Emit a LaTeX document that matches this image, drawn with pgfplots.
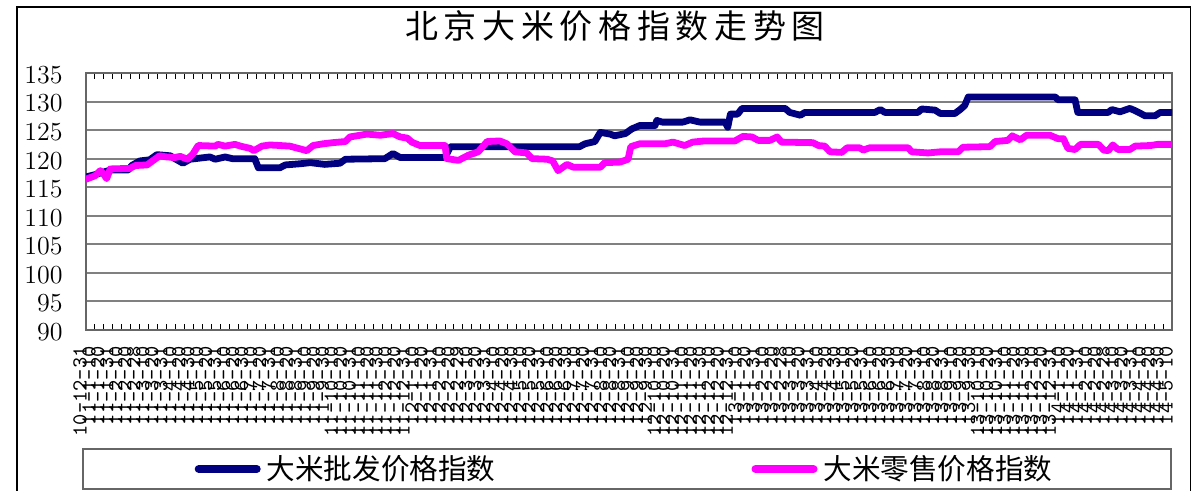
\documentclass[border=0pt]{standalone}
\usepackage{fontspec}
\usepackage{pgfplots}
\pgfplotsset{compat=1.18}
\newfontfamily\cjk{Noto Sans CJK SC}
\definecolor{navyline}{RGB}{0,0,128}
\definecolor{pinkline}{RGB}{255,0,255}

% wholesale index (x = tick index, 0 = 10-12-31)
\pgfplotstableread{
x val
0 116.8
1.0 117.2
2.7 118.0
4.7 118.0
5.1 118.8
6.0 119.6
7.1 119.8
7.9 120.7
9.4 120.5
9.9 120.0
10.8 119.2
11.6 119.9
13.8 120.3
14.4 119.9
15.5 120.3
16.3 120.0
18.8 120.0
19.2 118.4
21.6 118.4
22.2 118.9
23.8 119.1
25.0 119.3
26.6 119.0
28.3 119.2
28.9 119.9
33.3 120.0
34.2 120.9
35.0 120.2
40.0 120.2
40.6 122.1
55.0 122.1
55.6 122.6
56.7 123.0
57.3 124.6
58.4 124.3
58.9 124.0
60.1 124.4
60.8 125.2
61.7 125.8
63.4 125.8
63.6 126.7
64.2 126.4
66.5 126.4
67.3 126.8
68.4 126.4
71.2 126.4
71.5 125.5
71.8 127.8
72.6 127.8
73.1 128.8
77.9 128.8
78.4 128.1
79.6 127.6
80.1 128.1
87.9 128.1
88.5 128.6
89.0 128.1
92.7 128.1
93.1 128.7
94.6 128.5
95.2 127.9
96.8 127.9
97.4 128.6
97.9 129.3
98.3 130.8
108.0 130.8
108.3 130.3
110.2 130.3
110.5 128.1
113.9 128.1
114.3 128.6
115.2 128.2
116.3 128.8
116.9 128.4
117.4 128.0
118.0 127.5
119.1 127.5
119.7 128.1
121.0 128.1
}\wholesale

% retail index
\pgfplotstableread{
x val
0 116.4
1.0 117.0
1.6 117.9
2.0 117.2
2.3 116.5
2.7 118.2
4.9 118.3
5.5 118.8
6.8 118.9
7.5 119.7
8.2 120.5
9.0 120.3
9.9 120.2
10.5 120.4
11.3 119.9
11.9 120.8
12.5 122.3
14.4 122.2
14.7 122.5
15.5 122.2
16.6 122.5
17.2 122.2
18.3 121.8
18.7 121.4
19.6 122.2
20.5 122.4
22.7 122.2
24.6 121.4
25.3 122.3
26.4 122.6
27.5 122.8
28.9 123.0
29.4 123.8
31.3 124.3
32.8 124.1
34.2 124.4
35.0 123.8
35.8 123.6
36.3 122.9
37.2 122.3
40.0 122.3
40.2 120.0
41.5 119.7
42.6 120.6
43.7 121.2
44.7 123.0
46.1 123.1
46.9 122.6
47.8 121.2
49.1 121.0
49.7 120.0
51.4 119.9
52.0 119.6
52.6 117.9
53.6 119.0
54.3 118.5
57.3 118.5
57.8 119.3
59.5 119.4
60.4 119.9
60.7 122.1
61.7 122.6
64.5 122.6
65.4 122.9
66.7 122.3
67.6 122.9
68.9 123.1
72.3 123.1
73.2 123.9
74.2 123.8
74.9 123.2
76.2 123.2
77.0 123.8
77.5 122.9
81.0 122.8
81.6 122.3
82.3 122.2
82.9 121.2
84.2 121.1
84.8 121.9
86.2 121.9
86.6 121.5
87.3 121.9
91.6 121.9
92.0 121.2
93.8 121.0
95.2 121.2
97.2 121.2
97.7 122.0
100.7 122.1
101.3 123.0
102.7 123.2
103.2 124.0
104.1 123.3
104.8 124.1
107.4 124.1
108.3 123.5
108.9 123.5
109.4 121.8
110.2 121.6
110.8 122.5
112.8 122.5
113.4 121.5
113.9 121.4
114.4 122.4
115.0 121.6
116.3 121.6
116.9 122.2
118.6 122.3
119.4 122.5
121.0 122.5
}\retail

\begin{document}
\begin{tikzpicture}
\useasboundingbox (0,0) rectangle (600.5pt,245.5pt);
% outer chart frame
\draw[line width=0.8pt] (8.5pt,-5pt) rectangle (595.3pt,242pt);
% title
\node[font=\cjk\fontsize{16.5}{16.5}\selectfont] at (307.5pt,232.5pt)
  {北\hspace{2.85pt}京\hspace{2.85pt}大\hspace{2.85pt}米\hspace{2.85pt}价\hspace{2.85pt}格\hspace{2.85pt}指\hspace{2.85pt}数\hspace{2.85pt}走\hspace{2.85pt}势\hspace{2.85pt}图};
% legend frame
\draw[black!60, line width=0.8pt] (41.5pt,1pt) rectangle (585.5pt,21pt);
\begin{axis}[
  at={(43pt,80.5pt)}, anchor=south west,
  scale only axis,
  width=543pt, height=128.5pt,
  xmin=0, xmax=121,
  ymin=90, ymax=135,
  ytick={90,95,...,135},
  xtick={0,...,121},
  xticklabels={10-12-31,
    11-1-10,11-1-20,11-1-31,11-2-10,11-2-20,11-2-28,11-3-10,11-3-20,11-3-31,11-4-10,11-4-20,11-4-30,
    11-5-10,11-5-20,11-5-31,11-6-10,11-6-20,11-6-30,11-7-10,11-7-20,11-7-31,11-8-10,11-8-20,11-8-31,
    11-9-10,11-9-20,11-9-30,11-10-10,11-10-20,11-10-31,11-11-10,11-11-20,11-11-30,11-12-10,11-12-20,11-12-31,
    12-1-10,12-1-20,12-1-31,12-2-10,12-2-20,12-2-29,12-3-10,12-3-20,12-3-31,12-4-10,12-4-20,12-4-30,
    12-5-10,12-5-20,12-5-31,12-6-10,12-6-20,12-6-30,12-7-10,12-7-20,12-7-31,12-8-10,12-8-20,12-8-31,
    12-9-10,12-9-20,12-9-30,12-10-10,12-10-20,12-10-31,12-11-10,12-11-20,12-11-30,12-12-10,12-12-20,12-12-31,
    13-1-10,13-1-20,13-1-31,13-2-10,13-2-20,13-2-28,13-3-10,13-3-20,13-3-31,13-4-10,13-4-20,13-4-30,
    13-5-10,13-5-20,13-5-31,13-6-10,13-6-20,13-6-30,13-7-10,13-7-20,13-7-31,13-8-10,13-8-20,13-8-31,
    13-9-10,13-9-20,13-9-30,13-10-10,13-10-20,13-10-31,13-11-10,13-11-20,13-11-30,13-12-10,13-12-20,13-12-31,
    14-1-10,14-1-20,14-1-31,14-2-10,14-2-20,14-2-28,14-3-10,14-3-20,14-3-31,14-4-10,14-4-20,14-4-30,
    14-5-10},
  xticklabel style={xshift=-3pt, yshift=-8pt, rotate=90, anchor=east, inner sep=0pt,
    font=\ttfamily\fontsize{10.7}{11}\selectfont},
  yticklabel style={anchor=east, inner sep=0pt, xshift=-11.5pt, yshift=-1pt,
    font=\fontsize{13}{13}\selectfont},
  /pgf/number format/assume math mode=true,
  tick align=inside,
  major tick length=3pt,
  xtick style={black, line width=0.5pt},
  ytick style={draw=none},
  axis line style={black!60, line width=1pt},
  ymajorgrids=true,
  grid style={black!50, line width=1pt},
  legend columns=2,
  legend style={draw=none, fill=none, at={(0.4968,-0.5409)}, anchor=center,
    font=\cjk\fontsize{14.3}{15}\selectfont,
    /tikz/every odd column/.append style={column sep=1pt},
    /tikz/every even column/.append style={column sep=126pt}},
  legend image code/.code={\draw[line width=4pt, line cap=round] (0pt,0pt) -- (29pt,0pt);},
]
\addplot[navyline, line width=3.4pt, line join=round, line cap=round] table[x=x, y=val] {\wholesale};
\addplot[pinkline, line width=3.4pt, line join=round, line cap=round] table[x=x, y=val] {\retail};
\legend{大米批发价格指数, 大米零售价格指数}
\end{axis}
\end{tikzpicture}
\end{document}
